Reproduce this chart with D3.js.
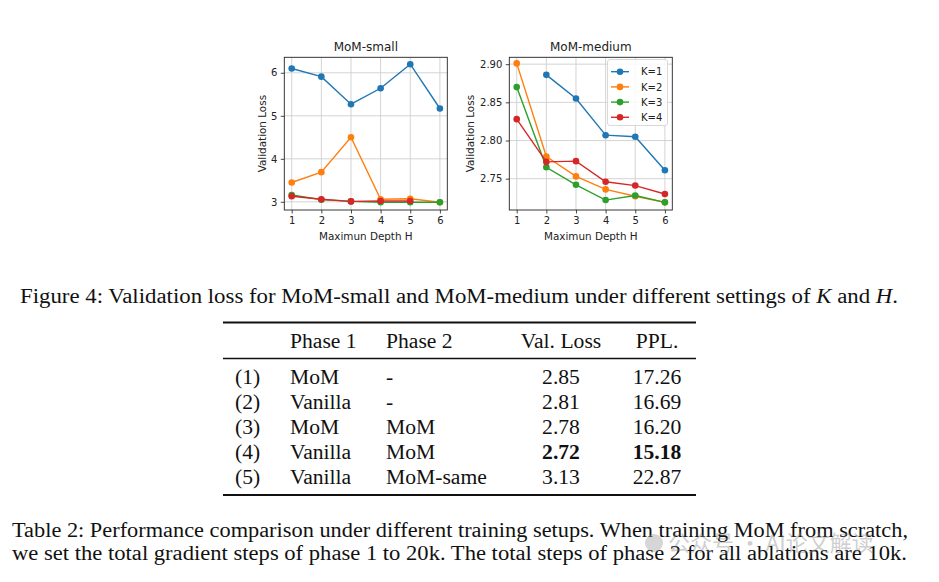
<!DOCTYPE html>
<html>
<head>
<meta charset="utf-8">
<script src="https://cdn.jsdelivr.net/npm/d3@7"></script>
<style>
  html, body { margin: 0; padding: 0; background: #fff; }
  svg { display: block; }
</style>
</head>
<body>
<svg id="fig" width="939" height="582"></svg>
<script>
// ---------------- data ----------------
const depthH = [1, 2, 3, 4, 5, 6];
const seriesNames = ["K=1", "K=2", "K=3", "K=4"];
const seriesColors = ["#1f77b4", "#ff7f0e", "#2ca02c", "#d62728"];

// MoM-small validation loss per K (index = H-1)
const smallK1 = [6.10, 5.91, 5.27, 5.64, 6.20, 5.17];
const smallK2 = [3.45, 3.69, 4.50, 3.06, 3.07, 2.99];
const smallK3 = [3.16, 3.05, 3.01, 2.99, 2.99, 2.99];
const smallK4 = [3.13, 3.06, 3.01, 3.02, 3.02, null];

// MoM-medium validation loss per K
const mediumK1 = [null, 2.886, 2.855, 2.807, 2.805, 2.761];
const mediumK2 = [2.901, 2.779, 2.753, 2.736, 2.727, 2.719];
const mediumK3 = [2.870, 2.765, 2.742, 2.722, 2.728, 2.719];
const mediumK4 = [2.828, 2.772, 2.773, 2.746, 2.741, 2.730];

const smallYTicks = [3, 4, 5, 6];
const mediumYTicks = [2.75, 2.80, 2.85, 2.90];

const panelTitles = ["MoM-small", "MoM-medium"];
const xAxisLabel = "Maximun Depth H";
const yAxisLabel = "Validation Loss";

// caption pieces: [text, italic?]
const figureCaption = [
  ["Figure 4: Validation loss for MoM-small and MoM-medium under different settings of ", false],
  ["K", true], [" and ", false], ["H", true], [".", false]
];

const tableHeader = ["", "Phase 1", "Phase 2", "Val. Loss", "PPL."];
const rowIds = ["(1)", "(2)", "(3)", "(4)", "(5)"];
const phase1 = ["MoM", "Vanilla", "MoM", "Vanilla", "Vanilla"];
const phase2 = ["-", "-", "MoM", "MoM", "MoM-same"];
const valLoss = ["2.85", "2.81", "2.78", "2.72", "3.13"];
const ppl = ["17.26", "16.69", "16.20", "15.18", "22.87"];
const boldRow = 3;

const tableCaption = [
  "Table 2: Performance comparison under different training setups. When training MoM from scratch,",
  "we set the total gradient steps of phase 1 to 20k. The total steps of phase 2 for all ablations are 10k."
];
const watermark = "公众号 · AI论文解读";

// ---------------- drawing ----------------
const svg = d3.select("#fig");
const sans = "DejaVu Sans, sans-serif";
const serif = "Liberation Serif, Times New Roman, serif";

function panel(cfg) {
  const g = svg.append("g");
  const x = d3.scaleLinear().domain([0.75, 6.25]).range([cfg.x0, cfg.x1]);
  const y = d3.scaleLinear().domain(cfg.yDomain).range([cfg.y1, cfg.y0]);

  // grid
  g.append("g").selectAll("line").data(depthH).join("line")
    .attr("x1", d => x(d)).attr("x2", d => x(d))
    .attr("y1", cfg.y0).attr("y2", cfg.y1)
    .attr("stroke", "#cfcfcf").attr("stroke-width", 0.9);
  g.append("g").selectAll("line").data(cfg.yTicks).join("line")
    .attr("x1", cfg.x0).attr("x2", cfg.x1)
    .attr("y1", d => y(d)).attr("y2", d => y(d))
    .attr("stroke", "#cfcfcf").attr("stroke-width", 0.9);

  // axes
  const xa = g.append("g").attr("transform", `translate(0,${cfg.y1})`)
    .call(d3.axisBottom(x).tickValues(depthH).tickFormat(d3.format("d")).tickSize(3.5).tickPadding(3.5));
  const ya = g.append("g").attr("transform", `translate(${cfg.x0},0)`)
    .call(d3.axisLeft(y).tickValues(cfg.yTicks).tickFormat(cfg.fmt).tickSize(3.5).tickPadding(3.5));
  [xa, ya].forEach(a => {
    a.select(".domain").remove();
    a.selectAll("line").attr("stroke", "#333").attr("stroke-width", 0.9);
    a.selectAll("text").attr("font-family", sans).attr("font-size", 10).attr("fill", "#222");
  });

  // series
  const line = d3.line().defined(d => d[1] != null).x(d => x(d[0])).y(d => y(d[1]));
  cfg.series.forEach((vals, i) => {
    const pts = depthH.map((h, j) => [h, vals[j]]);
    g.append("path").datum(pts).attr("d", line)
      .attr("fill", "none").attr("stroke", seriesColors[i]).attr("stroke-width", 1.4);
    g.append("g").selectAll("circle").data(pts.filter(d => d[1] != null)).join("circle")
      .attr("cx", d => x(d[0])).attr("cy", d => y(d[1])).attr("r", 3.3)
      .attr("fill", seriesColors[i]);
  });

  // frame
  g.append("rect").attr("x", cfg.x0).attr("y", cfg.y0)
    .attr("width", cfg.x1 - cfg.x0).attr("height", cfg.y1 - cfg.y0)
    .attr("fill", "none").attr("stroke", "#222").attr("stroke-width", 0.9);

  // labels
  g.append("text").attr("x", (cfg.x0 + cfg.x1) / 2).attr("y", 51)
    .attr("text-anchor", "middle").attr("font-family", sans).attr("font-size", 12)
    .attr("fill", "#222").text(cfg.title);
  g.append("text").attr("x", (cfg.x0 + cfg.x1) / 2).attr("y", 240)
    .attr("text-anchor", "middle").attr("font-family", sans).attr("font-size", 10.4)
    .attr("fill", "#222").text(xAxisLabel);
  g.append("text").attr("transform", `translate(${cfg.ylabX},${(cfg.y0 + cfg.y1) / 2}) rotate(-90)`)
    .attr("text-anchor", "middle").attr("font-family", sans).attr("font-size", 10.4)
    .attr("fill", "#222").text(yAxisLabel);

  return { g, x, y };
}

panel({
  x0: 284.3, x1: 447.3, y0: 57.3, y1: 210,
  yDomain: [2.81, 6.36], yTicks: smallYTicks, fmt: d3.format("d"),
  series: [smallK1, smallK2, smallK3, smallK4],
  title: panelTitles[0], ylabX: 265.5
});
const med = panel({
  x0: 509.3, x1: 672.3, y0: 57.3, y1: 210,
  yDomain: [2.709, 2.909], yTicks: mediumYTicks, fmt: d3.format(".2f"),
  series: [mediumK1, mediumK2, mediumK3, mediumK4],
  title: panelTitles[1], ylabX: 474
});

// legend
const lg = med.g.append("g");
lg.append("rect").attr("x", 607.5).attr("y", 59.5).attr("width", 60).attr("height", 66)
  .attr("rx", 2.5).attr("fill", "rgba(255,255,255,0.85)").attr("stroke", "#d5d5d5").attr("stroke-width", 0.9);
seriesNames.forEach((name, i) => {
  const yy = 71.7 + i * 15.2;
  lg.append("line").attr("x1", 611).attr("x2", 629).attr("y1", yy).attr("y2", yy)
    .attr("stroke", seriesColors[i]).attr("stroke-width", 1.4);
  lg.append("circle").attr("cx", 620).attr("cy", yy).attr("r", 3.3).attr("fill", seriesColors[i]);
  lg.append("text").attr("x", 641).attr("y", yy + 3.6).attr("font-family", sans)
    .attr("font-size", 10).attr("fill", "#222").text(name);
});

// figure caption
const cap = svg.append("text").attr("x", 20).attr("y", 303)
  .attr("font-family", serif).attr("font-size", 21.6).attr("fill", "#111")
  .attr("textLength", 878).attr("lengthAdjust", "spacingAndGlyphs");
figureCaption.forEach(([t, it]) => {
  cap.append("tspan").attr("font-style", it ? "italic" : "normal").text(t);
});

// table
const tg = svg.append("g").attr("font-family", serif).attr("font-size", 21.6).attr("fill", "#111");
tg.append("line").attr("x1", 223).attr("x2", 696).attr("y1", 322.5).attr("y2", 322.5).attr("stroke", "#111").attr("stroke-width", 2);
tg.append("line").attr("x1", 223).attr("x2", 696).attr("y1", 358.5).attr("y2", 358.5).attr("stroke", "#111").attr("stroke-width", 1.3);
tg.append("line").attr("x1", 223).attr("x2", 696).attr("y1", 495).attr("y2", 495).attr("stroke", "#111").attr("stroke-width", 2);

const colX = [235, 290, 386, 561, 657];
const colAnchor = ["start", "start", "start", "middle", "middle"];
tableHeader.forEach((h, c) => {
  tg.append("text").attr("x", colX[c]).attr("y", 348).attr("text-anchor", colAnchor[c]).text(h);
});
rowIds.forEach((id, r) => {
  const yy = 383.5 + r * 25;
  const cells = [id, phase1[r], phase2[r], valLoss[r], ppl[r]];
  cells.forEach((v, c) => {
    tg.append("text").attr("x", colX[c]).attr("y", yy).attr("text-anchor", colAnchor[c])
      .attr("font-weight", (r === boldRow && c >= 3) ? "bold" : "normal").text(v);
  });
});

// table caption
tableCaption.forEach((t, i) => {
  svg.append("text").attr("x", 12).attr("y", 537 + i * 23)
    .attr("font-family", serif).attr("font-size", 21.6).attr("fill", "#111")
    .attr("textLength", i === 0 ? 896 : 895).attr("lengthAdjust", "spacingAndGlyphs")
    .text(t);
});

// watermark
const wm = svg.append("g").attr("opacity", 0.4);
wm.append("circle").attr("cx", 654).attr("cy", 543).attr("r", 9).attr("fill", "#9a9a9a");
wm.append("text").attr("x", 668).attr("y", 551).attr("font-family", "Noto Sans CJK SC, sans-serif")
  .attr("font-size", 22).attr("fill", "#8a8a8a").text(watermark);
</script>
</body>
</html>
